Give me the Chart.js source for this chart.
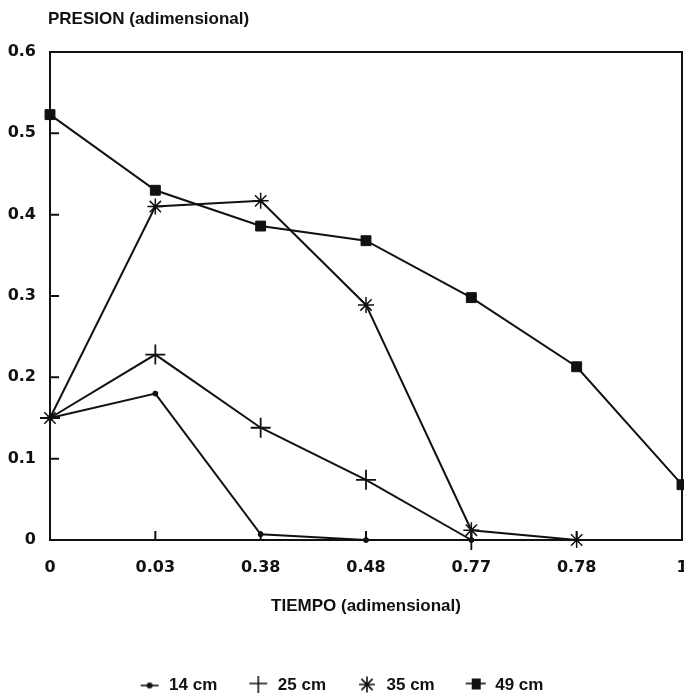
<!DOCTYPE html>
<html>
<head>
<meta charset="utf-8">
<script src="https://cdn.jsdelivr.net/npm/chart.js@4.4.0/dist/chart.umd.min.js"></script>
<style>
html, body { margin: 0; padding: 0; background: #fff; }
</style>
</head>
<body>
<canvas id="myChart" width="684" height="693"></canvas>
<script>
var tiempo = ['0', '0.03', '0.38', '0.48', '0.77', '0.78', '1'];
var serie14 = [0.15, 0.18, 0.007, 0, 0];
var serie25 = [0.15, 0.228, 0.138, 0.074, 0];
var serie35 = [0.15, 0.41, 0.417, 0.289, 0.012, 0];
var serie49 = [0.523, 0.43, 0.386, 0.368, 0.298, 0.213, 0.068];
var presionTicks = [0, 0.1, 0.2, 0.3, 0.4, 0.5, 0.6];
var nombres = ['14 cm', '25 cm', '35 cm', '49 cm'];

var tinta = '#111';

/* iconos de la leyenda: linea corta con el marcador */
function icono(tipo) {
    var c = document.createElement('canvas');
    c.width = 24; c.height = 20;
    var g = c.getContext('2d');
    g.strokeStyle = tinta; g.fillStyle = tinta; g.lineWidth = 1.6;
    g.beginPath();
    if (tipo == 'circle') {
        g.moveTo(3, 10); g.lineTo(21, 10); g.stroke();
        g.beginPath(); g.arc(12, 10, 3, 0, Math.PI * 2); g.fill();
    } else if (tipo == 'cross') {
        g.moveTo(3, 8); g.lineTo(21, 8);
        g.moveTo(12, 0); g.lineTo(12, 19); g.stroke();
    } else if (tipo == 'star') {
        for (var k = 0; k < 4; k++) {
            var an = k * Math.PI / 4;
            g.moveTo(12 - 8 * Math.cos(an), 9 - 8 * Math.sin(an));
            g.lineTo(12 + 8 * Math.cos(an), 9 + 8 * Math.sin(an));
        }
        g.stroke();
    } else {
        g.moveTo(2, 8); g.lineTo(22, 8); g.stroke();
        g.fillRect(8, 3, 9, 11);
    }
    return c;
}
var iconos = [icono('circle'), icono('cross'), icono('star'), icono('rect')];

/* marco, marcas interiores y titulo del eje y */
var marco = {
    id: 'marco',
    afterDraw: function(chart) {
        var ctx = chart.ctx, a = chart.chartArea;
        var xs = chart.scales.x, ys = chart.scales.y;
        ctx.save();
        ctx.strokeStyle = tinta;
        ctx.lineWidth = 2;
        ctx.beginPath();
        ctx.moveTo(a.left, a.top);
        ctx.lineTo(a.right, a.top);
        ctx.lineTo(a.right, a.bottom);
        presionTicks.forEach(function(v, i) {
            if (i > 0 && i < presionTicks.length - 1) {
                var y = ys.getPixelForValue(v);
                ctx.moveTo(a.left, y);
                ctx.lineTo(a.left + 9, y);
            }
        });
        tiempo.forEach(function(t, i) {
            if (i > 0 && i < tiempo.length - 1) {
                var x = xs.getPixelForValue(i);
                ctx.moveTo(x, a.bottom);
                ctx.lineTo(x, a.bottom - 9);
            }
        });
        ctx.stroke();
        ctx.font = 'bold 17px "Liberation Sans"';
        ctx.fillStyle = tinta;
        ctx.textBaseline = 'middle';
        ctx.fillText('PRESION (adimensional)', 48, 19);
        ctx.restore();
    }
};

function serie(nombre, datos, estilo, radio, ancho) {
    return {
        label: nombre,
        data: datos,
        borderColor: tinta,
        backgroundColor: tinta,
        borderWidth: 2,
        pointStyle: estilo,
        pointRadius: radio,
        pointHoverRadius: radio,
        pointBorderWidth: ancho,
        pointBorderColor: tinta,
        pointBackgroundColor: tinta,
        tension: 0,
        fill: false,
        clip: 12
    };
}

var ctx = document.getElementById('myChart').getContext('2d');
var myChart = new Chart(ctx, {
    type: 'line',
    data: {
        labels: tiempo,
        datasets: [
            serie(nombres[0], serie14, 'circle', 2.5, 1),
            serie(nombres[1], serie25, 'cross', 10, 1.8),
            serie(nombres[2], serie35, 'star', 8, 1.5),
            serie(nombres[3], serie49, 'rect', 7, 1)
        ]
    },
    options: {
        responsive: false,
        animation: false,
        layout: {
            autoPadding: false,
            padding: { left: 0, right: 2, top: 52, bottom: -11 }
        },
        plugins: {
            title: { display: false },
            tooltip: { enabled: false },
            legend: {
                display: true,
                position: 'bottom',
                labels: {
                    usePointStyle: true,
                    pointStyleWidth: 22,
                    boxHeight: 17,
                    padding: 30,
                    color: tinta,
                    font: { family: 'Liberation Sans', size: 17, weight: 'bold' },
                    generateLabels: function(chart) {
                        var items = Chart.defaults.plugins.legend.labels.generateLabels(chart);
                        items.forEach(function(it, i) { it.pointStyle = iconos[i]; });
                        return items;
                    }
                }
            }
        },
        scales: {
            x: {
                type: 'category',
                offset: false,
                grid: { display: false, drawTicks: false },
                border: { display: true, color: tinta, width: 2 },
                ticks: {
                    color: tinta,
                    padding: 18,
                    autoSkip: false,
                    maxRotation: 0,
                    font: { family: 'DejaVu Sans', size: 16, weight: 'bold' }
                },
                title: {
                    display: true,
                    text: 'TIEMPO (adimensional)',
                    color: tinta,
                    padding: { top: 22, bottom: 30 },
                    font: { family: 'Liberation Sans', size: 17, weight: 'bold' }
                },
                afterFit: function(s) {
                    s.height = 107;
                    s.paddingLeft = 0;
                    s.paddingRight = 0;
                }
            },
            y: {
                min: 0,
                max: 0.6,
                grid: { display: false, drawTicks: false },
                border: { display: true, color: tinta, width: 2 },
                afterBuildTicks: function(s) {
                    s.ticks = presionTicks.map(function(v) { return { value: v }; });
                },
                ticks: {
                    color: tinta,
                    padding: 14,
                    font: { family: 'DejaVu Sans', size: 16, weight: 'bold' },
                    callback: function(v) { return v === 0 ? '0' : v.toFixed(1); }
                },
                afterFit: function(s) { s.width = 50; }
            }
        }
    },
    plugins: [marco]
});
</script>
</body>
</html>
